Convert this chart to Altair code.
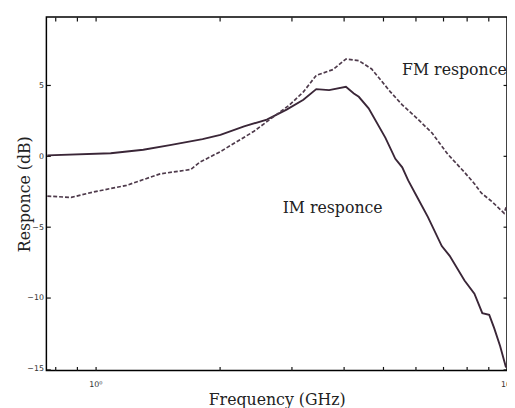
import altair as alt
import pandas as pd

# IM response (solid)
im_freq = [0.764, 1.089, 1.307, 1.517, 1.821, 2.012, 2.297, 2.609, 2.914, 3.201,
           3.44, 3.696, 4.061, 4.245, 4.364, 4.611, 5.066, 5.354, 5.565, 5.753,
           6.08, 6.426, 6.943, 7.256, 7.884, 8.333, 8.71, 9.054, 9.308, 9.621, 9.945]
im_db = [0.05, 0.2, 0.45, 0.78, 1.2, 1.5, 2.1, 2.57, 3.28, 3.97,
         4.72, 4.65, 4.88, 4.41, 4.18, 3.37, 1.29, -0.19, -0.79, -1.71,
         -3.0, -4.3, -6.34, -7.03, -8.77, -9.69, -11.07, -11.19, -12.12, -13.38, -14.89]

# FM response (dashed)
fm_freq = [0.764, 0.873, 0.991, 1.19, 1.436, 1.704, 1.791, 2.012, 2.428, 2.712,
           2.963, 3.201, 3.44, 3.779, 4.061, 4.364, 4.69, 5.208, 5.565, 5.98,
           6.57, 7.177, 7.884, 8.333, 8.662, 9.205, 9.836, 9.95]
fm_db = [-2.82, -2.91, -2.52, -2.06, -1.25, -0.94, -0.44, 0.32, 1.75, 2.79,
         3.61, 4.53, 5.69, 6.10, 6.84, 6.73, 6.14, 4.53, 3.61, 2.79,
         1.64, 0.14, -1.14, -1.94, -2.6, -3.22, -4.02, -3.6]

# annotations
label_text = ["IM responce", "FM responce"]
label_freq = [2.85, 5.56]
label_db = [-3.65, 6.05]

x_ticks = [0.8, 0.9, 1, 2, 3, 4, 5, 6, 7, 8, 9, 10]
y_ticks = [-15, -10, -5, 0, 5]

im_df = pd.DataFrame({"freq": im_freq, "db": im_db})
fm_df = pd.DataFrame({"freq": fm_freq, "db": fm_db})
lab_df = pd.DataFrame({"freq": label_freq, "db": label_db, "text": label_text})

xs = alt.Scale(type="log", domain=[0.76, 10], nice=False)
ys = alt.Scale(domain=[-15.1, 9.8], nice=False, zero=False)

tick_style = dict(tickSize=4, offset=-4, domain=False, grid=False,
                  tickColor="#111111", tickWidth=1.2,
                  labelFont="DejaVu Sans", labelFontSize=8, labelColor="#333333")

x_bottom = alt.Axis(orient="bottom", values=x_ticks,
                    labelExpr="datum.value == 1 ? '10⁰' : (datum.value == 10 ? '10¹' : '')",
                    labelOverlap=False, labelFlush=False, labelPadding=10,
                    title="Frequency (GHz)", titleFont="DejaVu Serif", titleFontSize=16,
                    titleFontWeight="normal", titleColor="#222222", titlePadding=4,
                    **tick_style)
x_top = alt.Axis(orient="top", values=x_ticks, labels=False, title=None, **tick_style)
y_left = alt.Axis(orient="left", values=y_ticks, labelPadding=3,
                  title="Responce (dB)", titleFont="DejaVu Serif", titleFontSize=16,
                  titleFontWeight="normal", titleColor="#222222", titlePadding=-6,
                  **tick_style)
y_right = alt.Axis(orient="right", values=y_ticks, labels=False, title=None, **tick_style)

im_line = alt.Chart(im_df).mark_line(color="#3a2637", strokeWidth=1.9).encode(
    x=alt.X("freq:Q", scale=xs, axis=x_bottom),
    y=alt.Y("db:Q", scale=ys, axis=y_left),
)
fm_line = alt.Chart(fm_df).mark_line(color="#4e3a4b", strokeWidth=1.7, strokeDash=[4, 2]).encode(
    x=alt.X("freq:Q", scale=xs, axis=x_top),
    y=alt.Y("db:Q", scale=ys, axis=y_right),
)
labels = alt.Chart(lab_df).mark_text(font="DejaVu Serif", fontSize=16, color="#222222",
                                     align="left", baseline="middle").encode(
    x=alt.X("freq:Q", scale=xs, axis=None),
    y=alt.Y("db:Q", scale=ys, axis=None),
    text="text:N",
)

chart = alt.layer(im_line, fm_line, labels).resolve_axis(
    x="independent", y="independent"
).properties(
    width=468, height=359,
    autosize=alt.AutoSizeParams(type="none"),
    padding={"left": 39, "top": 6, "right": 0, "bottom": 35},
).configure(
    background="white",
    view=alt.ViewConfig(stroke="#000000", strokeWidth=1.5),
)

chart.save("out.html", embed_options={"renderer": "svg", "actions": False})
